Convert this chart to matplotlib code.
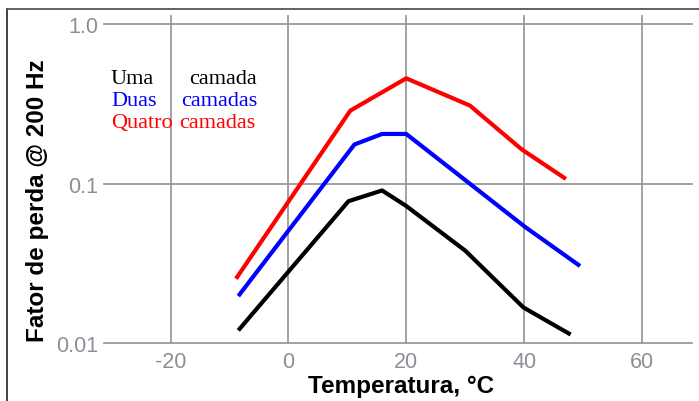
import matplotlib
matplotlib.use("Agg")
import matplotlib.pyplot as plt
from matplotlib.lines import Line2D

# Data
temp_uma = [-8.5, 10.2, 15.9, 20.0, 30.0, 39.9, 47.9]
uma = [0.0120, 0.0776, 0.0906, 0.0724, 0.0380, 0.0167, 0.0113]
temp_duas = [-8.5, 11.2, 15.9, 20.0, 40.2, 49.5]
duas = [0.0197, 0.176, 0.205, 0.205, 0.0534, 0.0304]
temp_quatro = [-8.9, 10.5, 20.0, 30.8, 39.6, 47.1]
quatro = [0.0253, 0.287, 0.458, 0.309, 0.164, 0.107]

xticks = [-20, 0, 20, 40, 60]
yticks = [0.01, 0.1, 1.0]
ytick_labels = ["0.01", "0.1", "1.0"]

W, H = 699, 402
fig = plt.figure(figsize=(W / 100, H / 100), dpi=100)
ax = fig.add_axes([104 / W, 1 - 344 / H, (692 - 104) / W, (344 - 17) / H])

lw = 3.0
ax.plot(temp_uma, uma, color="black", lw=lw, solid_capstyle="butt", zorder=3)
ax.plot(temp_duas, duas, color="#0000ff", lw=lw, solid_capstyle="butt", zorder=3)
ax.plot(temp_quatro, quatro, color="#ff0000", lw=lw, solid_capstyle="butt", zorder=3)

ax.set_yscale("log")
ax.set_xlim(-31.3, 68.5)
ax.set_ylim(0.01, 1.127)
ax.set_xticks(xticks)
ax.set_xticklabels([str(t) for t in xticks])
ax.set_yticks(yticks)
ax.set_yticklabels(ytick_labels)
ax.minorticks_off()
ax.yaxis.set_minor_locator(matplotlib.ticker.NullLocator())

for s in ax.spines.values():
    s.set_visible(False)
ax.grid(True, which="major", color="#9a9a9a", lw=1.3)
for gl in ax.get_xgridlines() + ax.get_ygridlines():
    gl.set_clip_on(False)
ax.tick_params(axis="both", length=0, labelsize=15.5, labelcolor="#8c9096",
               labelfontfamily="Liberation Sans")
ax.tick_params(axis="y", pad=4)
ax.tick_params(axis="x", pad=6)
ax.set_axisbelow(True)

fig.text(401 / W, 1 - 387 / H, "Temperatura, °C", ha="center", va="center",
         fontsize=17.5, fontweight="bold", family="Liberation Sans")
fig.text(38 / W, 1 - 201 / H, "Fator de perda @ 200 Hz", ha="center", va="center",
         rotation=90, fontsize=17.5, fontweight="bold", family="Liberation Sans")

# Legend-like labels
serif = "Liberation Serif"
fs = 16
rows = [
    (84, "Uma", 111, "camada", 189, "black"),
    (106.5, "Duas", 111, "camadas", 181, "#0000ff"),
    (128, "Quatro", 111, "camadas", 179, "#ff0000"),
]
for yb, w1, x1, w2, x2, c in rows:
    fig.text(x1 / W, 1 - yb / H, w1, ha="left", va="baseline", color=c,
             fontsize=fs, family=serif)
    fig.text(x2 / W, 1 - yb / H, w2, ha="left", va="baseline", color=c,
             fontsize=fs, family=serif)

# Figure border (left and top)
fig.add_artist(Line2D([7 / W, 7 / W], [0, 1 - 10 / H], transform=fig.transFigure,
                      color="#333333", lw=1.3))
fig.add_artist(Line2D([7 / W, 1], [1 - 10 / H, 1 - 10 / H], transform=fig.transFigure,
                      color="#555555", lw=1.3))

fig.savefig("out.png", dpi=100)
